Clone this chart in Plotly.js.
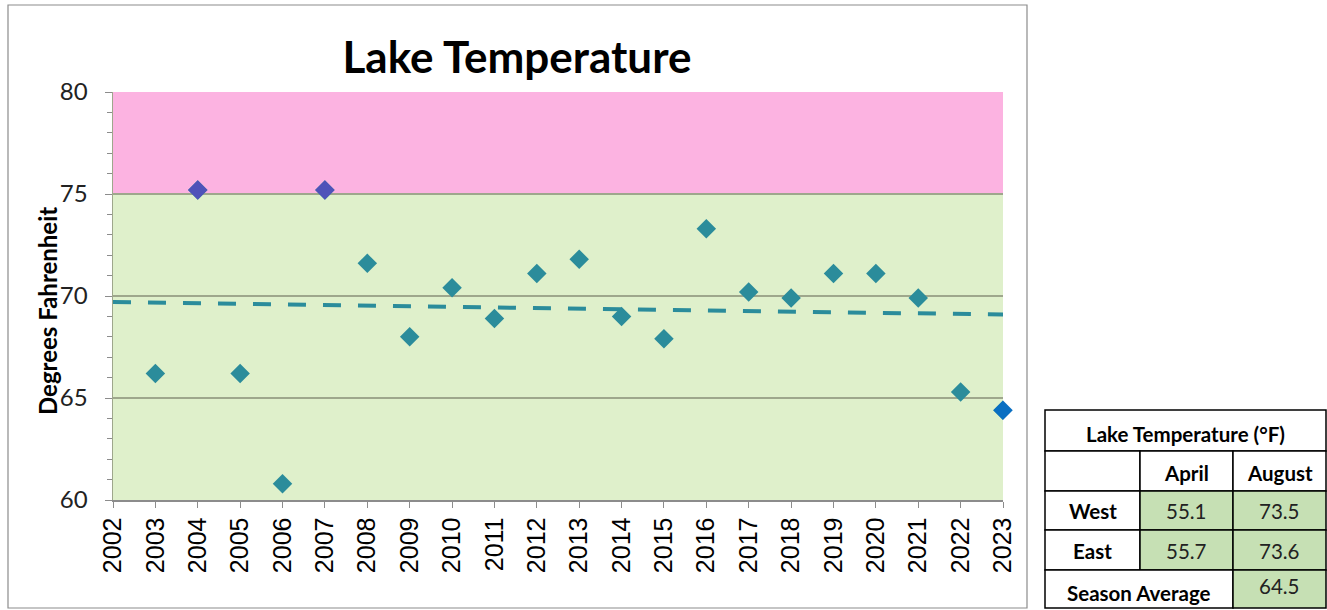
<!DOCTYPE html>
<html>
<head>
<meta charset="utf-8">
<script src="https://cdn.plot.ly/plotly-3.0.1.min.js"></script>
<style>
	html, body { margin: 0; padding: 0; background: #ffffff; }
	#chart { width: 1327px; height: 610px; }
</style>
</head>
<body>
<div id="chart"></div>
<script>

// yearly lake temperatures (°F)
const years = [ 2003, 2004, 2005, 2006, 2007, 2008, 2009, 2010, 2011, 2012, 2013,
	2014, 2015, 2016, 2017, 2018, 2019, 2020, 2021, 2022, 2023 ];
const temps = [ 66.2, 75.2, 66.2, 60.8, 75.2, 71.6, 68.0, 70.4, 68.9, 71.1, 71.8,
	69.0, 67.9, 73.3, 70.2, 69.9, 71.1, 71.1, 69.9, 65.3, 64.4 ];

// years above the 75 °F limit
const hotYears = [ 2004, 2007 ];
const hotTemps = [ 75.2, 75.2 ];

// latest season
const latestYear = [ 2023 ];
const latestTemp = [ 64.4 ];

// linear trend end points
const trendYears = [ 2002, 2023 ];
const trendTemps = [ 69.70, 69.09 ];

const tickYears = [ 2002, 2003, 2004, 2005, 2006, 2007, 2008, 2009, 2010, 2011, 2012,
	2013, 2014, 2015, 2016, 2017, 2018, 2019, 2020, 2021, 2022, 2023 ];

// side table
const tableTitle = 'Lake Temperature (°F)';
const tableColumns = [ 'April', 'August' ];
const tableRows = [ 'West', 'East' ];
const aprilValues = [ '55.1', '55.7' ];
const augustValues = [ '73.5', '73.6' ];
const averageLabel = 'Season Average';
const seasonAverage = '64.5';

/**
 * Pixel to paper helpers (plot area 113..1003 x 92..500)
 */
function px( x ) {
	return ( x - 113 ) / 890;
}

function py( y ) {
	return ( 500 - y ) / 408;
}

const teal = '#2b8c9b';
const green = '#c6e0b4';

let shapes = [
	// chart frame
	{ type: 'rect', xref: 'paper', yref: 'paper', x0: px( 8 ), x1: px( 1027 ), y0: py( 608 ), y1: py( 5 ),
		line: { color: '#8c8c8c', width: 1.2 }, layer: 'below' },
	// limit bands
	{ type: 'rect', xref: 'x', yref: 'y', x0: 2002, x1: 2023, y0: 75, y1: 80,
		fillcolor: '#fcb3e1', line: { width: 0 }, layer: 'below' },
	{ type: 'rect', xref: 'x', yref: 'y', x0: 2002, x1: 2023, y0: 60, y1: 75,
		fillcolor: '#dff0cb', line: { width: 0 }, layer: 'below' },
	{ type: 'line', xref: 'x', yref: 'y', x0: 2002, x1: 2023, y0: 75, y1: 75,
		line: { color: '#c97fae', width: 1.5 }, layer: 'below' }
];

let annotations = [
	{ text: '<b>Degrees Fahrenheit</b>', xref: 'paper', yref: 'paper', x: px( 47 ), y: py( 311 ),
		xanchor: 'center', yanchor: 'middle',
		textangle: -90, showarrow: false, font: { family: 'Lato', size: 24, color: '#000' } }
];

// table cells
const colX = [ 1045, 1140, 1233, 1326 ];
const rowY = [ 410, 451, 491, 530, 570, 608 ];

function cell( x0, x1, y0, y1, fill ) {
	shapes.push( { type: 'rect', xref: 'paper', yref: 'paper',
		x0: px( x0 ), x1: px( x1 ), y0: py( y1 ), y1: py( y0 ),
		fillcolor: fill, line: { color: '#000', width: 1.5 } } );
}

function label( text, x0, x1, yc, bold ) {
	annotations.push( { text: bold ? '<b>' + text + '</b>' : text, xref: 'paper', yref: 'paper',
		x: px( ( x0 + x1 ) / 2 ), y: py( yc ), xanchor: 'center', yanchor: 'middle', showarrow: false,
		font: { family: 'Lato', size: 20.5, color: bold ? '#000' : '#222' } } );
}

cell( colX[ 0 ], colX[ 3 ], rowY[ 0 ], rowY[ 1 ], '#ffffff' );
label( tableTitle, colX[ 0 ], colX[ 3 ], 434, true );

cell( colX[ 0 ], colX[ 1 ], rowY[ 1 ], rowY[ 2 ], '#ffffff' );
for ( let c = 0; c < tableColumns.length; c++ ) {
	cell( colX[ c + 1 ], colX[ c + 2 ], rowY[ 1 ], rowY[ 2 ], '#ffffff' );
	label( tableColumns[ c ], colX[ c + 1 ], colX[ c + 2 ], 473, true );
}

for ( let r = 0; r < tableRows.length; r++ ) {
	const y0 = rowY[ r + 2 ];
	const y1 = rowY[ r + 3 ];
	const yc = ( y0 + y1 ) / 2 + 1;
	cell( colX[ 0 ], colX[ 1 ], y0, y1, '#ffffff' );
	label( tableRows[ r ], colX[ 0 ], colX[ 1 ], yc, true );
	cell( colX[ 1 ], colX[ 2 ], y0, y1, green );
	label( aprilValues[ r ], colX[ 1 ], colX[ 2 ], yc, false );
	cell( colX[ 2 ], colX[ 3 ], y0, y1, green );
	label( augustValues[ r ], colX[ 2 ], colX[ 3 ], yc, false );
}

cell( colX[ 0 ], colX[ 2 ], rowY[ 4 ], rowY[ 5 ], '#ffffff' );
label( averageLabel, colX[ 0 ], colX[ 2 ], 593, true );
cell( colX[ 2 ], colX[ 3 ], rowY[ 4 ], rowY[ 5 ], green );
label( seasonAverage, colX[ 2 ], colX[ 3 ], 586, false );

let data = [
	{
		x: trendYears,
		y: trendTemps,
		type: 'scatter',
		mode: 'lines',
		line: { color: teal, width: 4, dash: '18px,17px' },
		hoverinfo: 'skip'
	},
	{
		x: years,
		y: temps,
		type: 'scatter',
		mode: 'markers',
		marker: { symbol: 'diamond', size: 15, color: teal }
	},
	{
		x: hotYears,
		y: hotTemps,
		type: 'scatter',
		mode: 'markers',
		marker: { symbol: 'diamond', size: 15, color: '#4f52b9' }
	},
	{
		x: latestYear,
		y: latestTemp,
		type: 'scatter',
		mode: 'markers',
		marker: { symbol: 'diamond', size: 15, color: '#0a6fc2' },
		cliponaxis: false
	}
];

const layout = {
	width: 1327,
	height: 610,
	margin: { l: 113, r: 324, t: 92, b: 110 },
	paper_bgcolor: '#ffffff',
	plot_bgcolor: 'rgba(0,0,0,0)',
	showlegend: false,
	title: {
		text: '<b>Lake Temperature</b>',
		font: { family: 'Lato', size: 44, color: '#000' },
		x: px( 517 ), xref: 'paper', xanchor: 'center',
		y: 1 - 58 / 610, yanchor: 'middle'
	},
	xaxis: {
		range: [ 2002, 2023 ],
		tickvals: tickYears,
		ticktext: tickYears.map( String ),
		tickangle: -90,
		ticks: 'outside',
		ticklen: 6,
		tickcolor: '#8c8c8c',
		showline: true,
		linecolor: '#8c8c8c',
		linewidth: 1.5,
		showgrid: false,
		zeroline: false,
		tickfont: { family: 'Liberation Sans', size: 25, color: '#000' }
	},
	yaxis: {
		range: [ 60, 80 ],
		dtick: 5,
		ticks: 'outside',
		ticklen: 7,
		tickcolor: '#8c8c8c',
		ticklabelstandoff: 12,
		minor: { dtick: 1, ticks: 'outside', ticklen: 5, tickcolor: '#8c8c8c', showgrid: false },
		showline: true,
		linecolor: '#9ea78c',
		linewidth: 1.5,
		showgrid: true,
		gridcolor: '#9ea78c',
		gridwidth: 1.3,
		zeroline: false,
		tickfont: { family: 'Lato', size: 24, color: '#222' }
	},
	shapes: shapes,
	annotations: annotations
};

Plotly.newPlot( 'chart', data, layout, { displayModeBar: false, staticPlot: true } );

</script>
</body>
</html>
